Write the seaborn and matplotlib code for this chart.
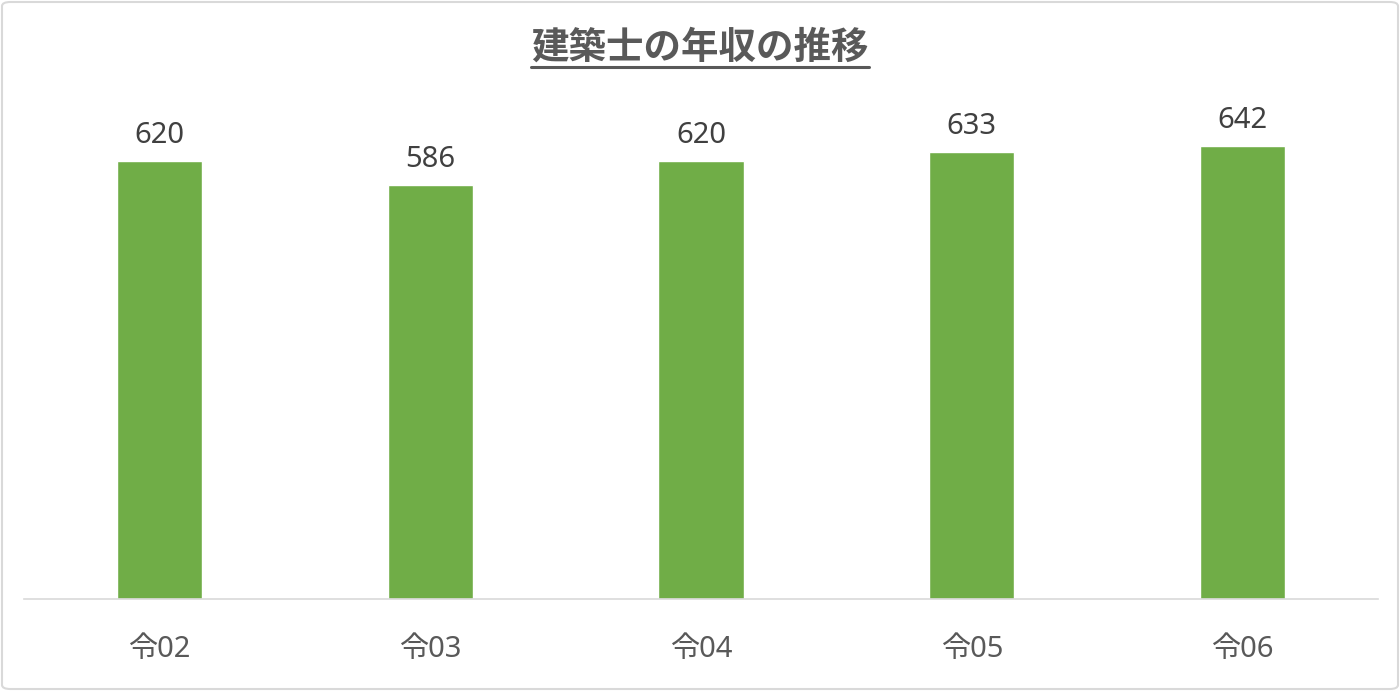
import matplotlib
matplotlib.use("Agg")
import matplotlib.pyplot as plt
import seaborn as sns
import pandas as pd
from matplotlib.patches import FancyBboxPatch
from matplotlib.lines import Line2D

categories = ["令02", "令03", "令04", "令05", "令06"]
values = [620, 586, 620, 633, 642]
title = "建築士の年収の推移"

sns.set_theme(style="white")
plt.rcParams['font.family'] = ['Noto Sans', 'Noto Sans CJK JP', 'DejaVu Sans']

df = pd.DataFrame({"cat": categories, "val": values})

fig = plt.figure(figsize=(14, 6.91), dpi=100)
ax = fig.add_axes([24/1400, 1 - 599/691, 1354/1400, (599 - 105)/691])
sns.barplot(data=df, x="cat", y="val", color="#70AD47", saturation=1, width=0.315, ax=ax)

ax.set_ylim(0, 700)
ax.set_xlim(-0.5, len(categories) - 0.5)
ax.set_xlabel("")
ax.set_ylabel("")
ax.set_yticks([])
for s in ["top", "right", "left"]:
    ax.spines[s].set_visible(False)
ax.spines["bottom"].set_color("#D9D9D9")
ax.spines["bottom"].set_linewidth(1.2)
ax.tick_params(axis="x", length=0, pad=26, labelsize=21, labelcolor="#595959")

for c in ax.containers:
    ax.bar_label(c, labels=[str(v) for v in values], padding=8, fontsize=21, color="#404040")

t = fig.text(0.5, 1 - 47/691, title, ha="center", va="center", fontsize=27,
             fontweight="bold", color="#595959",
             family=['Noto Sans CJK JP', 'DejaVu Sans'])
fig.canvas.draw()
bb = t.get_window_extent(renderer=fig.canvas.get_renderer())
y_line = 1 - 67/691
fig.add_artist(Line2D([bb.x0/1400, bb.x1/1400], [y_line, y_line], color="#595959", lw=2.2))

border = FancyBboxPatch((2/1400, 2/691), 1396/1400, 687/691,
                        boxstyle="round,pad=0,rounding_size=0.006",
                        transform=fig.transFigure, fill=False,
                        edgecolor="#D9D9D9", lw=1.5)
fig.add_artist(border)

fig.savefig("out.png", dpi=100)
